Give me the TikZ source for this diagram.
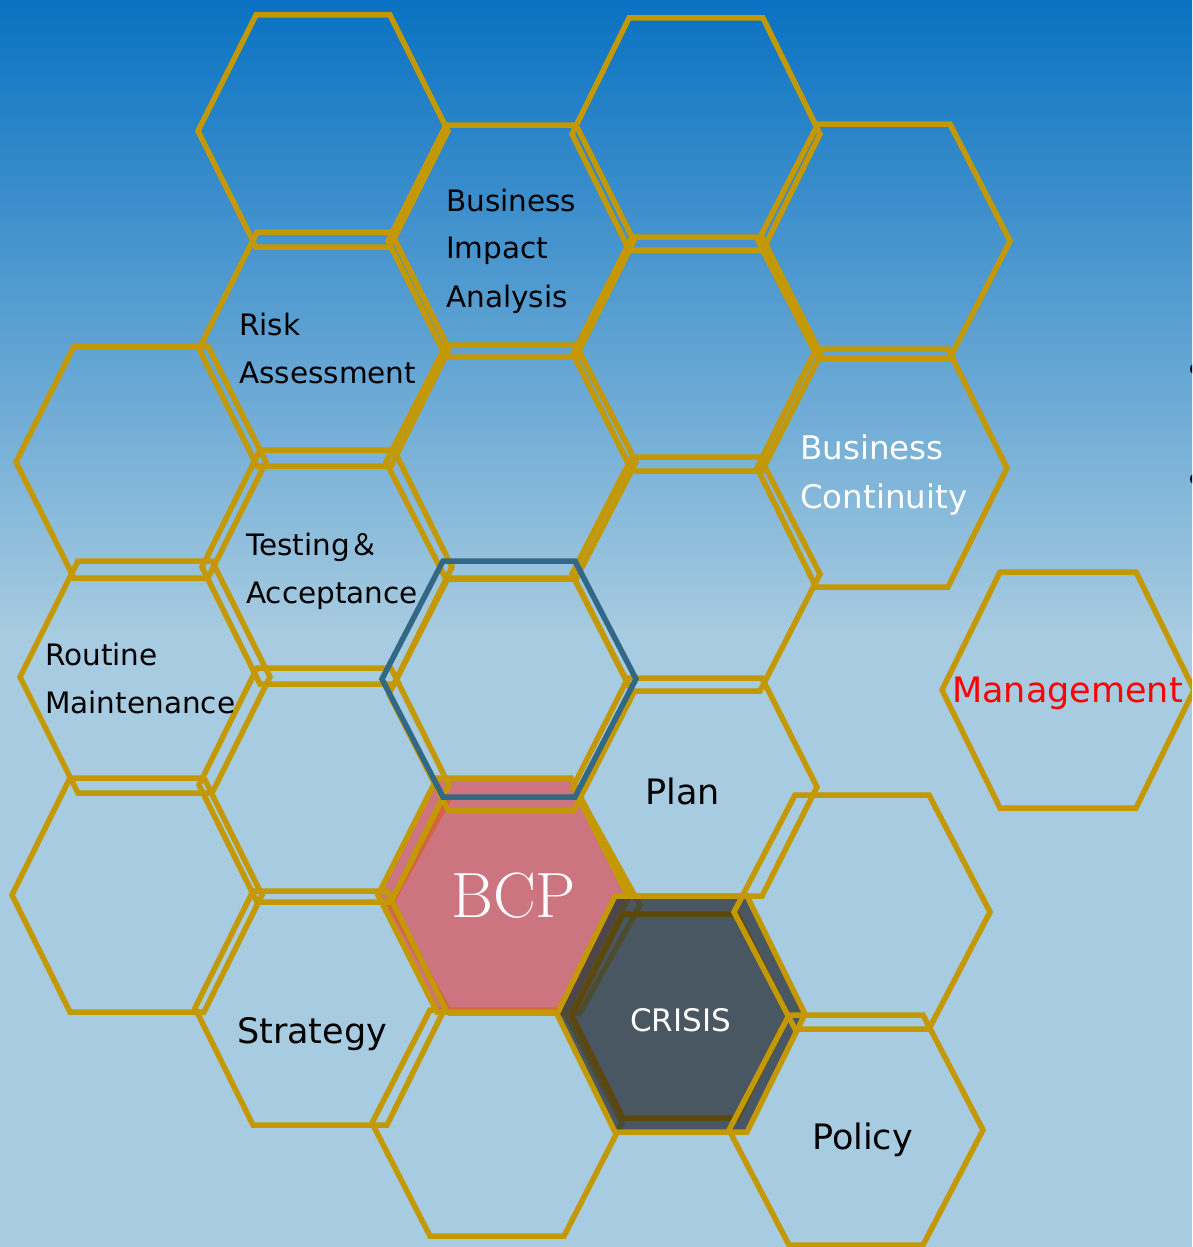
\documentclass[tikz,border=0pt]{standalone}
\usepackage{fontspec}
\newfontfamily\sans{DejaVu Sans}
\newfontfamily\cjkfont{Noto Sans CJK JP}
\definecolor{bgtop}{RGB}{9,114,194}
\definecolor{bglow}{RGB}{167,203,224}
\definecolor{hgold}{RGB}{196,152,0}
\definecolor{hblue}{RGB}{50,104,134}
\definecolor{bcpfill}{RGB}{220,80,87}
\definecolor{crisisfill}{RGB}{46,55,62}
\definecolor{hbrown}{RGB}{92,72,12}
\definecolor{mred}{RGB}{255,0,0}
% hexagon: [style] cx cy halfwidth halftop halfheight
\newcommand{\hexpath}[6][goldline]{\path[#1] ({#2-#4},{#3}) -- ({#2-#5},{#3-#6}) -- ({#2+#5},{#3-#6}) -- ({#2+#4},{#3}) -- ({#2+#5},{#3+#6}) -- ({#2-#5},{#3+#6}) -- cycle;}
\begin{document}
\begin{tikzpicture}[x=1pt,y=-1pt,line join=miter,
  goldline/.style={draw=hgold,line width=5.5pt},
  blueline/.style={draw=hblue,line width=5.5pt},
  brownline/.style={draw=hbrown,line width=5.5pt},
  lbl/.style={anchor=base west,inner sep=0pt,text=black,font=\sans\fontsize{29.5}{35}\selectfont},
  lblbig/.style={anchor=base west,inner sep=0pt,text=black,font=\sans\fontsize{35}{40}\selectfont}]
\useasboundingbox (0,0) rectangle (1192,1247);
\clip (0,0) rectangle (1192,1247);
% background
\fill[top color=bgtop,bottom color=bglow] (0,0) rectangle (1192,632);
\fill[bglow] (0,630) rectangle (1192,1247);
% hexagons under the coloured ones
\hexpath{515}{905}{125}{65}{108}
\hexpath{497}{1123}{125}{67}{113}
% BCP
\hexpath[fill=bcpfill,fill opacity=0.7]{504}{895}{126}{67}{117}
\hexpath{504}{895}{126}{67}{117}
% CRISIS
\hexpath[fill=crisisfill,fill opacity=0.78]{681}{1014}{124}{66}{118}
\hexpath[brownline]{680}{1016}{108}{57}{102}
\hexpath{681}{1014}{124}{66}{118}
% grid of gold hexagons
\hexpath{141}{462}{125}{67}{116}
\hexpath{145}{677}{125}{67}{116}
\hexpath{137}{895}{125}{67}{117}
\hexpath{323}{131}{125}{67}{116}
\hexpath{324}{349}{125}{67}{117}
\hexpath{327}{567}{125}{67}{117}
\hexpath{324}{785}{125}{67}{117}
\hexpath{320}{1008}{125}{67}{117}
\hexpath{511}{241}{123}{65}{116}
\hexpath{511}{462}{125}{65}{117}
\hexpath{511}{694}{122}{63}{116}
\hexpath{696}{134}{124}{67}{116}
\hexpath{697}{354}{124}{65}{117}
\hexpath{696}{574}{124}{64}{117}
\hexpath{695}{787}{122}{67}{109}
\hexpath{884}{241}{126}{66}{117}
\hexpath{882}{468}{125}{66}{119}
\hexpath{862}{912}{128}{67}{117}
\hexpath{856}{1130}{127}{67}{115}
\hexpath{1068}{690}{126}{68}{118}
% blue outline
\hexpath[blueline]{509}{679}{127}{66}{118}
% labels
\node[lbl] (bia1) at (446,211) {Business};
\node[lbl] (bia2) at (446,258) {Impact};
\node[lbl] (bia3) at (446,307) {Analysis};
\node[lbl] (ra1) at (239,335) {Risk};
\node[lbl] (ra2) at (239,383) {Assessment};
\node[lbl] (ta1) at (246,555) {Testing{\cjkfont ＆}};
\node[lbl] (ta2) at (246,603) {Acceptance};
\node[lbl] (rm1) at (45,665) {Routine};
\node[lbl] (rm2) at (45,713) {Maintenance};
\node[lbl,text=white,font=\sans\fontsize{32.5}{38}\selectfont] (bc1) at (800,459) {Business};
\node[lbl,text=white,font=\sans\fontsize{32.5}{38}\selectfont] (bc2) at (800,508) {Continuity};
\node[lbl,text=mred,font=\sans\fontsize{35}{40}\selectfont] (mg) at (952,702) {Management};
\node[lbl,font=\sans\fontsize{35}{40}\selectfont] (plan) at (645,804) {Plan};
\node[anchor=base west,inner sep=0pt,text=white,font=\rmfamily\fontsize{64}{68}\selectfont] (bcp) at (451,917) {BCP};
\node[lbl,text=white,font=\sans\fontsize{31}{36}\selectfont] (crisis) at (630,1031) {CRISIS};
\node[lblbig] (strat) at (237,1043) {Strategy};
\node[lblbig] (pol) at (812,1149) {Policy};
% bullets cut by the right edge
\fill[black] (1196,369) circle (6);
\fill[black] (1196,479) circle (6);
\end{tikzpicture}
\end{document}
